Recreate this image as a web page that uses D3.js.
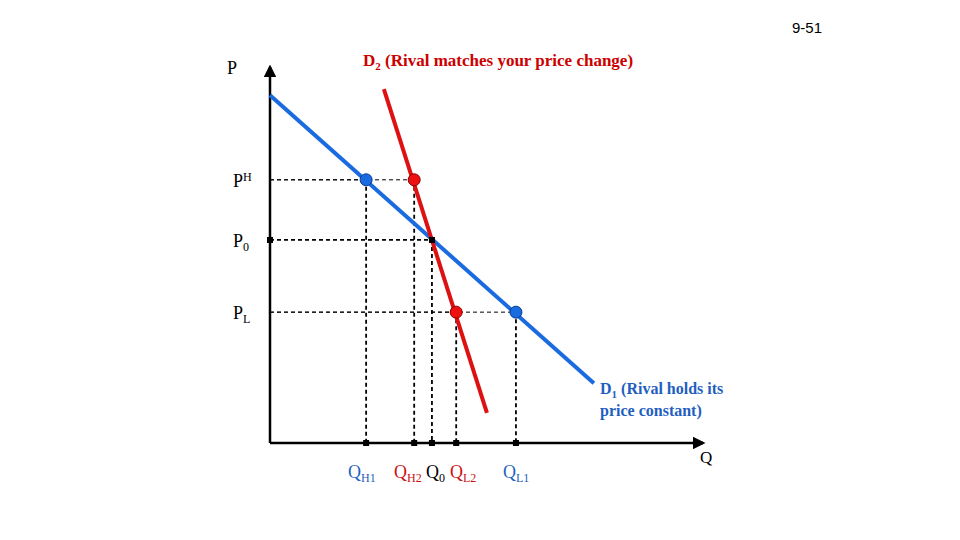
<!DOCTYPE html>
<html><head><meta charset="utf-8">
<script src="https://cdn.jsdelivr.net/npm/d3@7"></script>
<style>body{margin:0;background:#fff}</style></head>
<body><svg id="c" width="960" height="540"></svg>
<script>
// values in chart units (0-100 on both axes)
const priceLevels = [{name:'H', p:70, sup:true}, {name:'0', p:54}, {name:'L', p:34.8}];
const qTicks = [
  {lab:'H1', q:22.2, color:'#1f5fbf'},
  {lab:'H2', q:33.3, color:'#cc1111'},
  {lab:'0',  q:37.4, color:'#000'},
  {lab:'L2', q:43.0, color:'#cc1111'},
  {lab:'L1', q:56.8, color:'#1f5fbf'}
];
const d1Line = [[0, 92.5], [74.8, 15.9]];
const d2Line = [[26.3, 94.1], [50.1, 8.0]];
const bluePts = [[22.2, 70], [56.8, 34.8]];
const redPts = [[33.3, 70], [43.0, 34.8]];
const kink = [37.4, 54];
// dashed guides: [q, p]
const guides = [[22.2,70],[33.3,70],[37.4,54],[43.0,34.8],[56.8,34.8]];

const svg = d3.select('#c');
const x = d3.scaleLinear().domain([0,100]).range([270,703]);
const y = d3.scaleLinear().domain([0,100]).range([443,67]);
const serif = 'Liberation Serif, Times New Roman, serif';

svg.append('defs').append('marker').attr('id','arr').attr('viewBox','0 0 10 10')
  .attr('refX',8).attr('refY',5).attr('markerWidth',5).attr('markerHeight',5).attr('orient','auto')
  .append('path').attr('d','M0,0L10,5L0,10z').attr('fill','#000');

svg.append('text').attr('x',822).attr('y',33).attr('text-anchor','end')
  .attr('font-family','Liberation Sans, Arial').attr('font-size',15).text('9-51');

// guides
guides.forEach(([q,p]) => {
  const w = p === 54 ? 1.8 : 1;
  svg.append('line').attr('x1',x(0)).attr('x2',x(q)).attr('y1',y(p)).attr('y2',y(p))
    .attr('stroke','#000').attr('stroke-width',w).attr('stroke-dasharray','4,3');
  svg.append('line').attr('x1',x(q)).attr('x2',x(q)).attr('y1',y(p)).attr('y2',y(0))
    .attr('stroke','#000').attr('stroke-width',1.8).attr('stroke-dasharray','4,3');
});

// axes
svg.append('line').attr('x1',x(0)).attr('y1',y(0)).attr('x2',x(0)).attr('y2',y(100))
  .attr('stroke','#000').attr('stroke-width',2.5).attr('marker-end','url(#arr)');
svg.append('line').attr('x1',x(0)).attr('y1',y(0)).attr('x2',x(100)).attr('y2',y(0))
  .attr('stroke','#000').attr('stroke-width',2.5).attr('marker-end','url(#arr)');

const line = d3.line().x(d=>x(d[0])).y(d=>y(d[1]));
svg.append('path').attr('d',line(d1Line)).attr('stroke','#1a6be0').attr('stroke-width',4).attr('fill','none');
svg.append('path').attr('d',line(d2Line)).attr('stroke','#dd1111').attr('stroke-width',4).attr('fill','none');

// axis tick squares
qTicks.forEach(t => svg.append('rect').attr('x',x(t.q)-3).attr('y',y(0)-3).attr('width',6).attr('height',6));
svg.append('rect').attr('x',x(0)-3).attr('y',y(54)-3).attr('width',6).attr('height',6);
svg.append('rect').attr('x',x(kink[0])-3).attr('y',y(kink[1])-3).attr('width',6).attr('height',6);

svg.selectAll('.bp').data(bluePts).enter().append('circle')
  .attr('cx',d=>x(d[0])).attr('cy',d=>y(d[1])).attr('r',6).attr('fill','#1a6be0').attr('stroke','#0a3a90');
svg.selectAll('.rp').data(redPts).enter().append('circle')
  .attr('cx',d=>x(d[0])).attr('cy',d=>y(d[1])).attr('r',6).attr('fill','#ee1111').attr('stroke','#800');

// labels
svg.append('text').attr('x',227).attr('y',74).attr('font-family',serif).attr('font-size',18).text('P');
svg.append('text').attr('x',700).attr('y',463).attr('font-family',serif).attr('font-size',17).text('Q');
priceLevels.forEach(pl => {
  const t = svg.append('text').attr('x',233).attr('y',y(pl.p)+7).attr('font-family',serif).attr('font-size',18).text('P');
  t.append('tspan').attr('font-size',12).attr('dy', pl.sup ? -6 : 4).text(pl.name);
});
const qPos = [348, 394, 426, 450, 503];
qTicks.forEach((t,i) => {
  const tx = svg.append('text').attr('x',qPos[i]).attr('y',478).attr('font-family',serif).attr('font-size',18).attr('fill',t.color).text('Q');
  tx.append('tspan').attr('font-size',12).attr('dy',4).text(t.lab);
});

const d2 = svg.append('text').attr('x',363).attr('y',66).attr('font-family',serif).attr('font-size',17)
  .attr('font-weight','bold').attr('fill','#c00');
d2.append('tspan').text('D');
d2.append('tspan').attr('font-size',11).attr('dy',4).text('2');
d2.append('tspan').attr('dy',-4).text(' (Rival matches your price change)');

const d1 = svg.append('text').attr('x',600).attr('y',394).attr('font-family',serif).attr('font-size',16)
  .attr('font-weight','bold').attr('fill','#1f5fbf');
d1.append('tspan').text('D');
d1.append('tspan').attr('font-size',11).attr('dy',4).text('1');
d1.append('tspan').attr('dy',-4).text(' (Rival holds its');
svg.append('text').attr('x',600).attr('y',416).attr('font-family',serif).attr('font-size',16)
  .attr('font-weight','bold').attr('fill','#1f5fbf').text('price constant)');
</script></body></html>
